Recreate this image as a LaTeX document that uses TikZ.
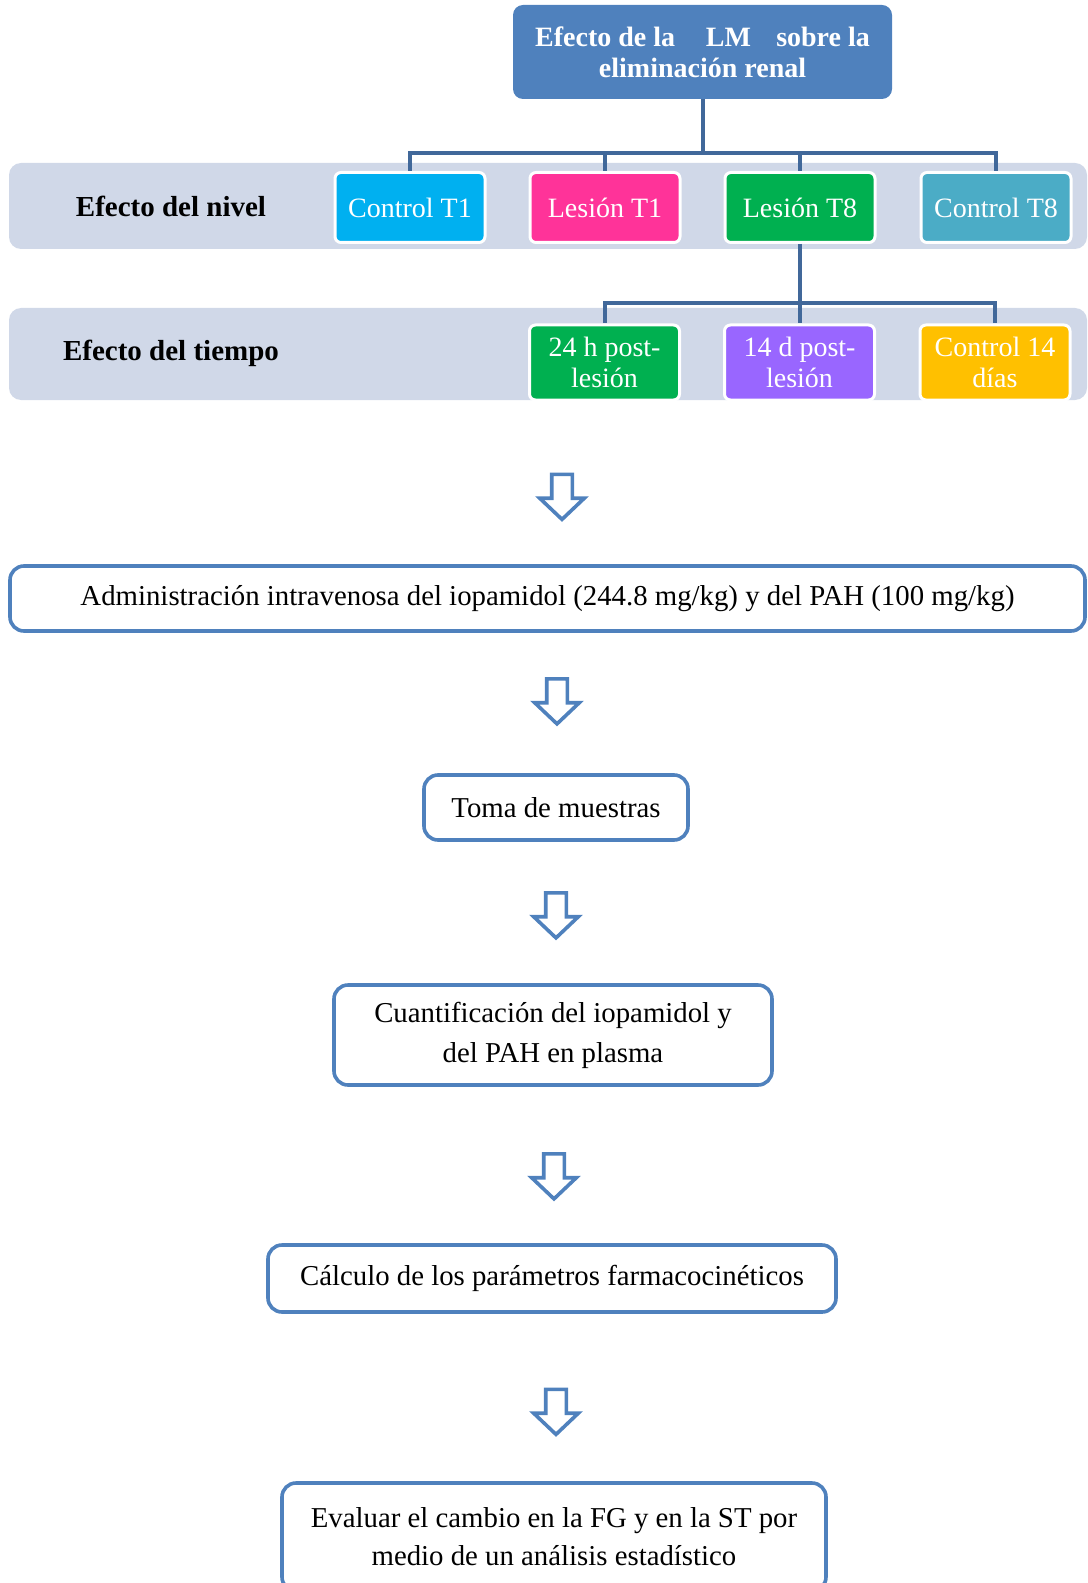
\documentclass[tikz,border=0pt]{standalone}
\usepackage{fontspec}
\setmainfont{Liberation Serif}
\usetikzlibrary{arrows.meta,shapes.arrows}
\definecolor{boxblue}{HTML}{4F81BD}
\definecolor{treeblue}{HTML}{41689A}
\definecolor{bandgray}{HTML}{D0D8E8}
\definecolor{ctlone}{HTML}{00B0F0}
\definecolor{lesone}{HTML}{FF3399}
\definecolor{leseight}{HTML}{00B050}
\definecolor{ctleight}{HTML}{4BACC6}
\definecolor{postd}{HTML}{9966FF}
\definecolor{ctlday}{HTML}{FFC000}
\tikzset{
  topbox/.style={fill=boxblue,rounded corners=5pt,text=white,align=center,minimum width=189.5pt,minimum height=47pt,font=\fontsize{14}{15.5}\selectfont\bfseries}, % root
  bandbox/.style={fill=bandgray,rounded corners=6pt},                 % grey band
  bandlab/.style={font=\fontsize{14.5}{16}\selectfont\bfseries},      % band title
  grp/.style={draw=white,line width=1.5pt,rounded corners=3pt,text=white,align=center,minimum width=75pt,inner sep=1pt,font=\fontsize{14}{15.5}\selectfont},
  tree/.style={treeblue,line width=2pt},
  flow/.style={draw=boxblue,line width=1.8pt,rounded corners=7pt,fill=white,align=center,font=\fontsize{14.4}{19}\selectfont},
  down/.style={single arrow,draw=boxblue,line width=1.8pt,fill=white,rotate=-90,minimum height=22.5pt,inner sep=4.25pt,single arrow head extend=6pt,single arrow tip angle=93,single arrow head indent=0pt},
}
\begin{document}
\begin{tikzpicture}[x=0.5pt,y=-0.5pt]
  \useasboundingbox (0,0) rectangle (1087,1583);
  \clip (0,0) rectangle (1087,1583);
  % root and first level
  \node[topbox] (root) at (702.5,52) {Efecto de la\hspace{1.1em}LM\hspace{0.9em}sobre la\\eliminación renal};
  \node[bandbox,minimum width=539pt,minimum height=43pt] (nivel) at (548,206) {};
  \node[bandlab] (nivellab) at (171,206) {Efecto del nivel};
  \node[grp,fill=ctlone,minimum height=35pt] (cone) at (410,207.5) {Control T1};
  \node[grp,fill=lesone,minimum height=35pt] (lone) at (605,207.5) {Lesión T1};
  \node[grp,fill=leseight,minimum height=35pt] (leight) at (800,207.5) {Lesión T8};
  \node[grp,fill=ctleight,minimum height=35pt] (ceight) at (996,207.5) {Control T8};
  \coordinate (hubone) at (702.5,153);
  \draw[tree] (root.south) -- (hubone);
  \foreach \k in {cone,lone,leight,ceight}
    \draw[tree] (hubone) -| (\k.north);
  % second level
  \node[bandbox,minimum width=539pt,minimum height=46pt] (tiempo) at (548,354) {};
  \node[bandlab] (tiempolab) at (171,353) {Efecto del tiempo};
  \node[grp,fill=leseight,minimum height=37.5pt] (hpost) at (604.5,362.5) {24 h post-\\lesión};
  \node[grp,fill=postd,minimum height=37.5pt] (dpost) at (799.5,362.5) {14 d post-\\lesión};
  \node[grp,fill=ctlday,minimum height=37.5pt] (cday) at (995,362.5) {Control 14\\días};
  \coordinate (hubtwo) at (800,303);
  \draw[tree] (leight.south) -- (hubtwo);
  \foreach \k in {hpost,dpost,cday}
    \draw[tree] (hubtwo) -| (\k.north);
  % procedure
  \node[down] (aone) at (562,492) {};
  \node[flow,minimum width=537.5pt,minimum height=32.5pt] (admin) at (547.5,598.5) {Administración intravenosa del iopamidol (244.8 mg/kg) y del PAH (100 mg/kg)};
  \node[down] (atwo) at (557,696.5) {};
  \node[flow,minimum width=132pt,minimum height=32.5pt] (toma) at (556,807.5) {Toma de muestras};
  \node[down] (athree) at (556,910.5) {};
  \node[flow,minimum width=219pt,minimum height=50pt] (cuant) at (553,1035) {Cuantificación del iopamidol y\\[1pt]del PAH en plasma};
  \node[down] (afour) at (554,1171.5) {};
  \node[flow,minimum width=284pt,minimum height=33.5pt] (calc) at (552,1278.5) {Cálculo de los parámetros farmacocinéticos};
  \node[down] (afive) at (556,1407) {};
  \node[flow,minimum width=272pt,minimum height=54pt] (evalu) at (554,1537) {Evaluar el cambio en la FG y en la ST por\\medio de un análisis estadístico};
\end{tikzpicture}
\end{document}
